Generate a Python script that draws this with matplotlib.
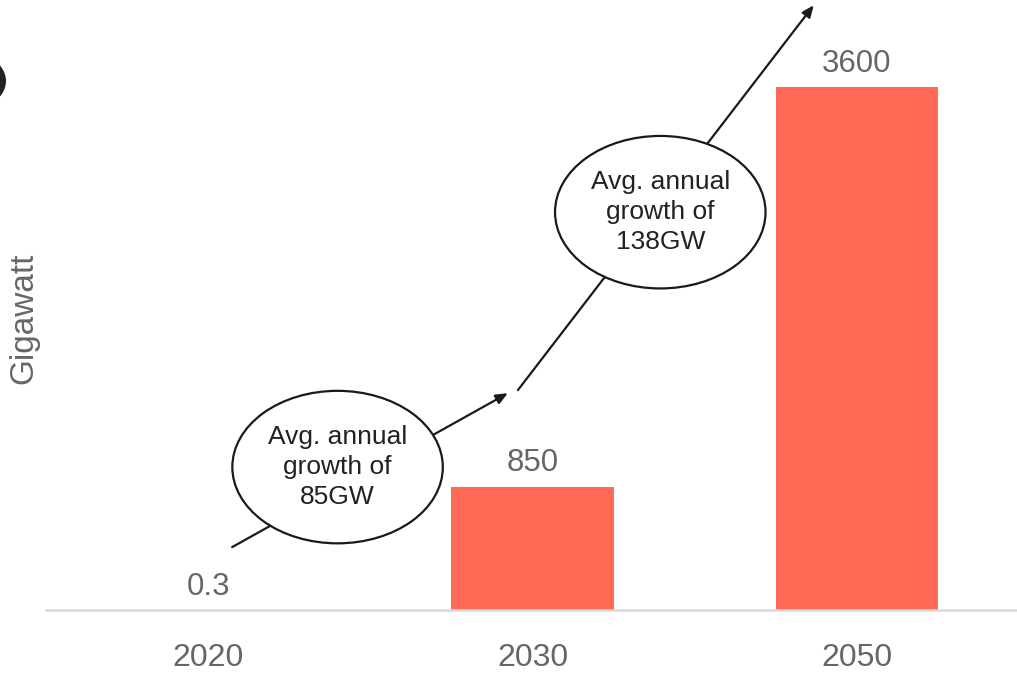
import matplotlib.pyplot as plt
from matplotlib.patches import Ellipse, Circle

plt.rcParams['font.family'] = ['Liberation Sans', 'DejaVu Sans']

years = ['2020', '2030', '2050']
capacity = [0.3, 850, 3600]
value_labels = ['0.3', '850', '3600']
growth_notes = ['Avg. annual\ngrowth of\n85GW', 'Avg. annual\ngrowth of\n138GW']

BAR_COLOR = '#FF6B57'
TEXT_COLOR = '#666666'

fig = plt.figure(figsize=(10.17, 6.73), dpi=100)
ax = fig.add_axes([46 / 1017, 63 / 673, 973 / 1017, 610 / 673])

x = range(len(years))
bars = ax.bar(x, capacity, width=0.5, color=BAR_COLOR, zorder=2)

for b, lab in zip(bars, value_labels):
    ax.annotate(lab, (b.get_x() + b.get_width() / 2, b.get_height()),
                xytext=(0, 6), textcoords='offset points',
                ha='center', va='bottom', fontsize=22.5, color=TEXT_COLOR)

ax.set_xlim(-0.5, 2.5)
ax.set_ylim(0, 4200)
ax.set_xticks(list(x))
ax.set_xticklabels(years, fontsize=23, color=TEXT_COLOR)
ax.tick_params(axis='x', length=0, pad=24)
ax.set_yticks([])
for s in ['top', 'right', 'left']:
    ax.spines[s].set_visible(False)
ax.spines['bottom'].set_color('#D9D9D9')
ax.spines['bottom'].set_linewidth(1.8)

fig.text(24 / 1017, 1 - 318 / 673, 'Gigawatt', rotation=90, ha='center', va='center',
         fontsize=24, color=TEXT_COLOR)

# growth arrows, ellipses sit on top of them
arrow_kw = dict(arrowstyle='-|>,head_length=0.7,head_width=0.3', color='#1a1a1a',
                lw=1.6, shrinkA=0, shrinkB=0)
ax.annotate('', xy=(0.924, 1493), xytext=(0.074, 433), arrowprops=arrow_kw, zorder=3)
ax.annotate('', xy=(1.867, 4164), xytext=(0.955, 1514), arrowprops=arrow_kw,
            zorder=3, annotation_clip=False)

for (cx, cy), note in zip([(0.399, 984), (1.394, 2739)], growth_notes):
    ax.add_patch(Ellipse((cx, cy), 0.649, 1050, facecolor='white', edgecolor='#1a1a1a',
                         lw=1.6, zorder=4))
    ax.text(cx, cy, note, ha='center', va='center', fontsize=19, color='#222222',
            linespacing=1.32, zorder=5)

# dark marker cut off at the left edge
fig.patches.append(Circle((-43 / 1017, 1 - 81 / 673), 49 / 1017, transform=fig.transFigure,
                          facecolor='#222222', edgecolor='none'))

fig.savefig('out.png', dpi=100)
